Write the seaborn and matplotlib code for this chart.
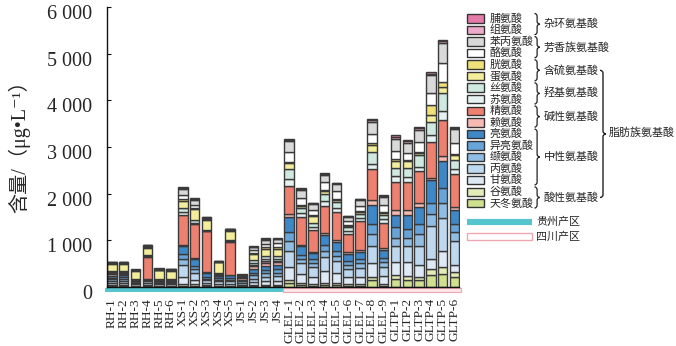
import matplotlib
matplotlib.use("Agg")
import matplotlib.pyplot as plt
import matplotlib.transforms as mtransforms
from matplotlib.patches import Rectangle, PathPatch
from matplotlib.path import Path
from matplotlib.lines import Line2D
import pandas as pd
import seaborn as sns

# ---------------- data ----------------
samples = ["RH-1", "RH-2", "RH-3", "RH-4", "RH-5", "RH-6",
           "XS-1", "XS-2", "XS-3", "XS-4", "XS-5",
           "JS-1", "JS-2", "JS-3", "JS-4",
           "GLEL-1", "GLEL-2", "GLEL-3", "GLEL-4", "GLEL-5", "GLEL-6", "GLEL-7", "GLEL-8", "GLEL-9",
           "GLTP-1", "GLTP-2", "GLTP-3", "GLTP-4", "GLTP-5", "GLTP-6"]

# legend order (top of stack first)
aa_names = ["脯氨酸", "组氨酸", "苯丙氨酸", "酪氨酸", "胱氨酸", "蛋氨酸", "丝氨酸", "苏氨酸",
            "精氨酸", "赖氨酸", "亮氨酸", "异亮氨酸", "缬氨酸", "丙氨酸", "甘氨酸", "谷氨酸", "天冬氨酸"]
aa_colors = ["#e47ba8", "#eeaacb", "#d9d9d9", "#ffffff", "#efe07a", "#f4ee9c", "#cfe8e0", "#e6f1f1",
             "#ee8070", "#f6bab2", "#3f88c8", "#66a4d9", "#90bde3", "#bdd8ef", "#dde9f5", "#e3ebb6", "#cfe08f"]

pro = [5, 5, 5, 5, 5, 5, 20, 20, 10, 5, 5, 5, 15, 15, 15,
       30, 20, 20, 20, 10, 10, 10, 40, 20, 30, 30, 20, 30, 30, 20]
his = [5, 5, 5, 5, 5, 5, 20, 20, 10, 5, 5, 5, 15, 15, 15,
       30, 30, 20, 30, 20, 10, 20, 40, 30, 40, 30, 30, 30, 40, 30]
phe = [10, 10, 5, 20, 15, 15, 130, 110, 20, 5, 5, 5, 60, 80, 80,
       220, 160, 120, 160, 150, 90, 120, 250, 180, 260, 220, 270, 380, 430, 300]
tyr = [10, 10, 10, 10, 10, 10, 100, 60, 10, 5, 5, 5, 60, 70, 80,
       220, 160, 100, 160, 160, 100, 120, 200, 140, 180, 150, 200, 270, 400, 220]
cys = [20, 20, 10, 20, 10, 10, 30, 30, 20, 10, 20, 5, 30, 40, 40,
       20, 20, 30, 30, 20, 10, 20, 30, 20, 30, 30, 20, 200, 120, 30]
met = [140, 150, 180, 160, 190, 180, 150, 230, 200, 220, 210, 5, 130, 160, 150,
       130, 40, 150, 60, 40, 30, 30, 150, 40, 150, 150, 60, 150, 120, 110]
ser = [20, 20, 10, 20, 10, 10, 90, 60, 20, 20, 20, 10, 50, 60, 60,
       220, 100, 80, 150, 130, 80, 90, 260, 100, 180, 180, 250, 290, 380, 190]
thr = [20, 20, 10, 20, 10, 10, 60, 40, 20, 20, 20, 10, 40, 50, 50,
       150, 90, 60, 100, 100, 60, 70, 110, 70, 130, 120, 80, 150, 200, 100]
arg = [40, 20, 10, 460, 10, 10, 640, 720, 870, 20, 700, 20, 30, 30, 30,
       600, 590, 480, 590, 600, 400, 620, 660, 550, 600, 600, 700, 770, 780, 710]
lys = [30, 20, 5, 10, 5, 5, 30, 30, 20, 10, 10, 40, 60, 60, 60,
       60, 40, 30, 40, 30, 30, 30, 110, 30, 110, 90, 80, 40, 100, 70]
leu = [40, 40, 10, 10, 10, 10, 180, 130, 80, 50, 60, 20, 80, 90, 90,
       330, 180, 120, 220, 200, 160, 170, 400, 180, 260, 300, 370, 500, 580, 290]
ile = [30, 40, 10, 10, 10, 10, 110, 80, 40, 30, 30, 20, 60, 70, 70,
       180, 80, 80, 110, 100, 70, 80, 220, 90, 220, 200, 210, 230, 320, 190]
val = [40, 50, 20, 20, 20, 20, 120, 90, 40, 40, 40, 30, 70, 80, 80,
       220, 90, 100, 130, 110, 90, 100, 260, 100, 180, 180, 250, 250, 330, 190]
ala = [50, 50, 30, 50, 30, 30, 250, 150, 60, 50, 50, 40, 80, 100, 110,
       340, 240, 200, 300, 260, 180, 190, 360, 200, 340, 330, 400, 700, 700, 500]
gly = [40, 40, 30, 40, 30, 30, 150, 80, 40, 40, 40, 30, 60, 80, 80,
       280, 200, 160, 260, 220, 150, 160, 300, 170, 280, 300, 260, 230, 340, 160]
glu = [20, 20, 15, 20, 15, 15, 40, 30, 20, 15, 15, 10, 20, 20, 20,
       70, 40, 30, 50, 40, 30, 30, 80, 30, 80, 80, 80, 130, 150, 100]
asp = [20, 20, 15, 20, 15, 15, 30, 30, 20, 15, 15, 10, 20, 20, 20,
       80, 40, 30, 40, 40, 30, 30, 140, 30, 180, 160, 140, 250, 280, 220]

yticks = [0, 1000, 2000, 3000, 4000, 5000, 6000]
ytick_labels = ["0", "1 000", "2 000", "3 000", "4 000", "5 000", "6 000"]
group_labels = ["杂环氨基酸", "芳香族氨基酸", "含硫氨基酸", "羟基氨基酸", "碱性氨基酸", "中性氨基酸", "酸性氨基酸"]
group_spans = [(0, 1), (2, 3), (4, 5), (6, 7), (8, 9), (10, 14), (15, 16)]
super_label = "脂肪族氨基酸"
region_labels = ["贵州产区", "四川产区"]
n_guizhou = 15

# ---------------- style ----------------
sns.set_theme(style="white")
SERIF = ["Liberation Serif", "Noto Sans CJK SC", "DejaVu Sans"]
CJK = ["Noto Sans CJK SC", "Liberation Serif", "DejaVu Sans"]
plt.rcParams["font.family"] = SERIF
TXT = "#262626"

series = [pro, his, phe, tyr, cys, met, ser, thr, arg, lys, leu, ile, val, ala, gly, glu, asp]
rows = []
for name, vals in zip(aa_names, series):
    for i, v in enumerate(vals):
        rows.append({"x": i, "aa": name, "v": v})
df = pd.DataFrame(rows)

W, H = 676, 346
fig = plt.figure(figsize=(W / 100, H / 100), dpi=100)
ax = fig.add_axes([107 / W, 1 - 287 / H, 352.5 / W, 280 / H])

sns.histplot(data=df, x="x", hue="aa", weights="v", hue_order=aa_names,
             palette=dict(zip(aa_names, aa_colors)), multiple="stack",
             discrete=True, shrink=0.8, alpha=1, edgecolor="#3a3a3a",
             linewidth=1.0, legend=False, ax=ax)

ax.set_xlim(-0.42, len(samples) - 0.58)
ax.set_ylim(0, 6000)
for s in ["top", "right"]:
    ax.spines[s].set_visible(False)
for s in ["left", "bottom"]:
    ax.spines[s].set_color("#111111")
    ax.spines[s].set_linewidth(1.0)

ax.set_yticks(yticks)
ax.set_yticklabels(ytick_labels)
ax.tick_params(axis="y", left=True, direction="in", length=3, width=0.8,
               color="#111111", labelsize=14.5, labelcolor=TXT, pad=10.5)
offset = mtransforms.ScaledTranslation(0, -5 / 100, fig.dpi_scale_trans)
for lab in ax.get_yticklabels():
    lab.set_transform(lab.get_transform() + offset)

ax.set_xticks(range(len(samples)))
ax.set_xticklabels(samples, rotation=90)
ax.tick_params(axis="x", bottom=False, length=0, labelsize=9.6, labelcolor=TXT, pad=8)
ax.set_xlabel("")
ax.set_ylabel("含量/（μg•L⁻¹）", fontsize=14.5, color=TXT, va="center")
ax.yaxis.set_label_coords(-0.25, 0.52)

# region strips under the axis
bt = mtransforms.blended_transform_factory(ax.transData, ax.transAxes)
y0s, y1s = -0.0168, -0.0046
ax.add_patch(Rectangle((-0.6, y0s), n_guizhou - 0.55 + 0.6, y1s - y0s, transform=bt,
                       facecolor="#55c5cf", edgecolor="none", clip_on=False))
ax.add_patch(Rectangle((n_guizhou - 0.5, y0s), len(samples) - 0.45 - (n_guizhou - 0.5), y1s - y0s,
                       transform=bt, facecolor="#fde6e9", edgecolor="#f0a6b0", lw=0.8, clip_on=False))

# ---------------- manual legend ----------------
def fx(x):
    return x / W


def fy(y):
    return 1 - y / H


c0, dy = 18.3, 11.56
centers = [c0 + i * dy for i in range(len(aa_names))]
for name, col, cy in zip(aa_names, aa_colors, centers):
    fig.add_artist(Rectangle((fx(466.5), fy(cy + 4.2)), 17.5 / W, 8.4 / H,
                             transform=fig.transFigure, facecolor=col,
                             edgecolor="#333333", lw=1.0))
    fig.text(fx(489.5), fy(cy), name, fontsize=7.9, family=CJK, color=TXT,
             ha="left", va="center")


def brace(x, ya, yb, w=2.6, r=3.0, lw=0.9):
    ym = (ya + yb) / 2
    r = min(r, (yb - ya) / 4)
    pts = [(x, ya), (x + w, ya), (x + w, ya + r), (x + w, ym - r), (x + w, ym), (x + 2 * w, ym),
           (x + w, ym), (x + w, ym + r), (x + w, yb - r), (x + w, yb), (x, yb)]
    codes = [Path.MOVETO, Path.CURVE3, Path.CURVE3, Path.LINETO, Path.CURVE3, Path.CURVE3,
             Path.CURVE3, Path.CURVE3, Path.LINETO, Path.CURVE3, Path.CURVE3]
    verts = [(fx(px), fy(py)) for px, py in pts]
    fig.add_artist(PathPatch(Path(verts, codes), transform=fig.transFigure,
                             fill=False, edgecolor="#222222", lw=lw))
    return ym


for (a, b), lab in zip(group_spans, group_labels):
    ym = brace(534.5, centers[a] - 4.8, centers[b] + 4.8)
    fig.text(fx(543.5), fy(ym), lab, fontsize=7.9, family=CJK, color=TXT,
             ha="left", va="center")

top_mid = (centers[4] + centers[5]) / 2
bot_mid = (centers[15] + centers[16]) / 2
ym = brace(600.0, top_mid, bot_mid, w=3.0, r=3.0, lw=1.0)
fig.text(fx(609), fy(ym - 1.5), super_label, fontsize=7.9, family=CJK, color=TXT,
         ha="left", va="center")

# region legend
fig.add_artist(Line2D([fx(466.7), fx(531.7)], [fy(221.7), fy(221.7)], transform=fig.transFigure,
                      color="#55c5cf", lw=4.4, solid_capstyle="butt"))
fig.text(fx(536), fy(221.7), region_labels[0], fontsize=7.9, family=CJK, color=TXT,
         ha="left", va="center")
fig.add_artist(Rectangle((fx(466.7), fy(240)), 65 / W, 7 / H, transform=fig.transFigure,
                         facecolor="white", edgecolor="#f0a6b0", lw=1.0))
fig.text(fx(536), fy(236.5), region_labels[1], fontsize=7.9, family=CJK, color=TXT,
         ha="left", va="center")

fig.savefig("out.png", dpi=100)
